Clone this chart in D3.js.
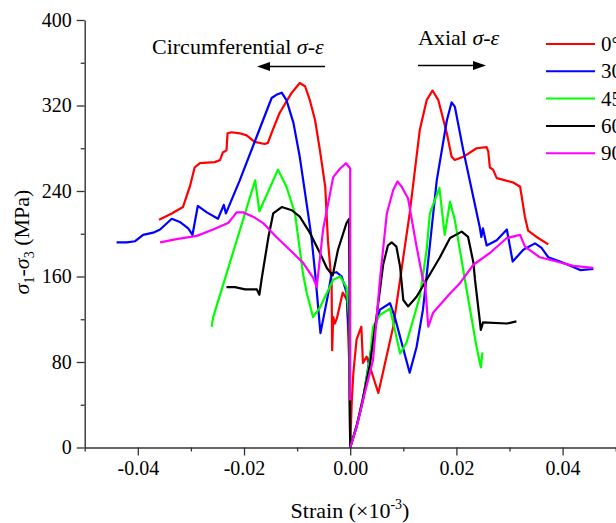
<!DOCTYPE html>
<html><head><meta charset="utf-8">
<script src="https://cdn.jsdelivr.net/npm/d3@7/dist/d3.min.js"></script>
<style>body{margin:0;background:#fff}svg{display:block}text{font-family:"Liberation Serif","Times New Roman",serif}</style>
</head><body><svg id="c" width="616" height="523"></svg>
<script>
// ---- data: [strain, sigma1-sigma3 (MPa)] ----
const series = ["0°","30°","45°","60°","90°"];
const colors = ["#ff0000","#0000ff","#00ff00","#000000","#ff00ff"];
const xTickValues = [-0.04,-0.02,0,0.02,0.04];
const xTickLabels = ["-0.04","-0.02","0.00","0.02","0.04"];
const yTickValues = [0,80,160,240,320,400];
const yTickLabels = ["0","80","160","240","320","400"];

const circ0 = [[0,0],[-0.0002,82],[-0.0006,138],[-0.0014,145],[-0.0025,121],[-0.0029,116],[-0.0032,122],[-0.0034,91],[-0.0035,154],[-0.0042,194],[-0.0047,244],[-0.0057,278],[-0.0066,306],[-0.0076,325],[-0.0085,338],[-0.0095,341],[-0.0110,332],[-0.0133,313],[-0.0146,297],[-0.0155,285],[-0.0161,284],[-0.0180,286],[-0.0195,292],[-0.0208,294],[-0.0223,295],[-0.0231,294],[-0.0233,278],[-0.0240,276],[-0.0245,269],[-0.0255,267],[-0.0283,266],[-0.0293,262],[-0.0302,244],[-0.0315,225],[-0.0336,219],[-0.0360,213]];
const axial0 = [[0,0],[0.0003,44],[0.0006,70],[0.0012,101],[0.0021,113],[0.0024,79],[0.0031,85],[0.0053,51],[0.0081,113],[0.0094,157],[0.0100,178],[0.0112,219],[0.0131,297],[0.0144,325],[0.0155,334],[0.0166,325],[0.0182,294],[0.0191,272],[0.0197,269],[0.0213,272],[0.0238,280],[0.0257,281],[0.0260,277],[0.0263,262],[0.0269,260],[0.0276,252],[0.0307,248],[0.0320,244],[0.0329,216],[0.0335,203],[0.0351,197],[0.0373,190]];

const circ30 = [[0,0],[-0.0002,103],[-0.0007,145],[-0.0016,160],[-0.0026,164],[-0.0035,163],[-0.0041,145],[-0.0056,107],[-0.0066,163],[-0.0073,197],[-0.0082,228],[-0.0095,272],[-0.0107,304],[-0.0120,325],[-0.0129,332],[-0.0139,330],[-0.0148,327],[-0.0176,291],[-0.0208,250],[-0.0234,219],[-0.0238,227],[-0.0249,214],[-0.0270,220],[-0.0287,226],[-0.0297,199],[-0.0305,205],[-0.0321,211],[-0.0336,214],[-0.0358,204],[-0.0371,201],[-0.0390,199],[-0.0405,193],[-0.0421,192],[-0.0440,192]];
const axial30 = [[0,0],[0.0012,19],[0.0024,44],[0.0037,85],[0.0050,119],[0.0056,129],[0.0075,135],[0.0084,122],[0.0112,70],[0.0125,94],[0.0137,129],[0.0141,147],[0.0163,250],[0.0182,306],[0.0191,323],[0.0197,319],[0.0213,278],[0.0244,206],[0.0247,197],[0.0250,205],[0.0257,189],[0.0276,194],[0.0295,204],[0.0306,174],[0.0326,185],[0.0348,191],[0.0360,187],[0.0373,178],[0.0395,174],[0.0420,169],[0.0433,166],[0.0458,167]];

const circ45 = [[0,0],[-0.0002,122],[-0.0007,150],[-0.0019,160],[-0.0032,157],[-0.0057,131],[-0.0070,122],[-0.0082,145],[-0.0089,163],[-0.0104,219],[-0.0120,244],[-0.0136,260],[-0.0171,221],[-0.0179,250],[-0.0258,122],[-0.0261,113]];
const axial45 = [[0,0],[0.0013,22],[0.0024,46],[0.0037,82],[0.0043,113],[0.0056,124],[0.0075,130],[0.0094,88],[0.0106,98],[0.0131,141],[0.0144,185],[0.0150,219],[0.0168,243],[0.0178,199],[0.0188,230],[0.0197,213],[0.0216,157],[0.0238,94],[0.0246,75],[0.0249,89]];

const circ60 = [[0,0],[-0.0002,214],[-0.0007,210],[-0.0023,185],[-0.0033,161],[-0.0044,168],[-0.0057,182],[-0.0076,201],[-0.0095,216],[-0.0110,222],[-0.0129,225],[-0.0145,219],[-0.0154,197],[-0.0167,157],[-0.0171,143],[-0.0176,148],[-0.0198,148],[-0.0217,150],[-0.0233,150]];
const axial60 = [[0,0],[0.0013,22],[0.0024,46],[0.0037,77],[0.0050,124],[0.0062,171],[0.0071,189],[0.0078,192],[0.0087,188],[0.0094,169],[0.0100,138],[0.0109,132],[0.0125,141],[0.0144,157],[0.0169,178],[0.0188,196],[0.0210,202],[0.0222,197],[0.0232,173],[0.0235,157],[0.0244,119],[0.0246,110],[0.0250,117],[0.0295,116],[0.0313,118]];

const circ90 = [[0,44],[0,261],[-0.0008,266],[-0.0019,261],[-0.0032,253],[-0.0051,204],[-0.0063,150],[-0.0066,154],[-0.0070,159],[-0.0089,173],[-0.0114,185],[-0.0139,197],[-0.0164,210],[-0.0183,216],[-0.0202,220],[-0.0214,220],[-0.0220,216],[-0.0230,210],[-0.0258,204],[-0.0289,198],[-0.0327,195],[-0.0358,192]];
const axial90 = [[0,0],[0.0012,19],[0.0024,44],[0.0043,82],[0.0056,157],[0.0069,219],[0.0081,241],[0.0089,249],[0.0097,244],[0.0109,233],[0.0125,188],[0.0137,157],[0.0141,154],[0.0147,113],[0.0156,126],[0.0188,144],[0.0207,154],[0.0232,171],[0.0263,182],[0.0295,196],[0.0320,199],[0.0329,188],[0.0357,178],[0.0389,174],[0.0420,170],[0.0458,168]];

const curves = [[circ0,axial0],[circ30,axial30],[circ45,axial45],[circ60,axial60],[circ90,axial90]];

// ---- drawing ----
const svg = d3.select("#c");
const x = d3.scaleLinear().domain([-0.05,0.05]).range([84.7,615.7]);
const y = d3.scaleLinear().domain([0,400]).range([447.5,20]);
const axisColor = "#333";

// curves
const line = d3.line().x(d=>x(d[0])).y(d=>y(d[1]));
const g = svg.append("g");
curves.forEach((pair,i)=>{
  pair.forEach(arr=>{
    g.append("path").datum(arr).attr("d",line).attr("fill","none")
      .attr("stroke",colors[i]).attr("stroke-width",2.2).attr("stroke-linejoin","round");
  });
});

// axes
const xMinor = d3.range(-5,6,2).map(v=>v/100);
const yMinor = d3.range(40,400,80);
const xAx = svg.append("g").attr("transform",`translate(0,${y(0)})`)
  .call(d3.axisBottom(x).tickValues(xTickValues).tickSize(8).tickSizeOuter(0)
    .tickFormat((d,i)=>xTickLabels[i]));
svg.append("g").attr("transform",`translate(0,${y(0)})`)
  .call(d3.axisBottom(x).tickValues(xMinor).tickSize(4).tickSizeOuter(0).tickFormat(""))
  .select(".domain").remove();
const yAx = svg.append("g").attr("transform",`translate(${x(-0.05)},0)`)
  .call(d3.axisLeft(y).tickValues(yTickValues).tickSize(8).tickSizeOuter(0)
    .tickFormat((d,i)=>yTickLabels[i]));
svg.append("g").attr("transform",`translate(${x(-0.05)},0)`)
  .call(d3.axisLeft(y).tickValues(yMinor).tickSize(4).tickSizeOuter(0).tickFormat(""))
  .select(".domain").remove();
svg.selectAll(".domain").attr("stroke",axisColor).attr("stroke-width",1.4);
svg.selectAll(".tick line").attr("stroke",axisColor).attr("stroke-width",1.3);
svg.selectAll(".tick text").attr("font-family","Liberation Serif").attr("font-size",20).attr("fill","#000");
xAx.selectAll(".tick text").attr("y",13);
yAx.selectAll(".tick text").attr("x",-13);

// axis titles
const xt = svg.append("text").attr("x",350).attr("y",518).attr("text-anchor","middle").attr("font-size",22);
xt.append("tspan").text("Strain (×10");
xt.append("tspan").attr("dy",-9).attr("font-size",14).text("-3");
xt.append("tspan").attr("dy",9).text(")");

const yt = svg.append("text").attr("transform","translate(29,242) rotate(-90)").attr("text-anchor","middle").attr("font-size",22);
yt.append("tspan").attr("font-style","italic").text("σ");
yt.append("tspan").attr("dy",5).attr("font-size",14).text("1");
yt.append("tspan").attr("dy",-5).text("-");
yt.append("tspan").attr("font-style","italic").text("σ");
yt.append("tspan").attr("dy",5).attr("font-size",14).text("3");
yt.append("tspan").attr("dy",-5).text(" (MPa)");

// annotations
const a1 = svg.append("text").attr("x",152).attr("y",54).attr("font-size",22);
a1.append("tspan").text("Circumferential ");
a1.append("tspan").attr("font-style","italic").text("σ-ε");
const a2 = svg.append("text").attr("x",418).attr("y",45).attr("font-size",22);
a2.append("tspan").text("Axial ");
a2.append("tspan").attr("font-style","italic").text("σ-ε");

svg.append("line").attr("x1",325).attr("x2",268).attr("y1",66.5).attr("y2",66.5).attr("stroke","#000").attr("stroke-width",1.6);
svg.append("path").attr("d","M257,66.5 L270,62 L270,71 Z").attr("fill","#000");
svg.append("line").attr("x1",418).attr("x2",475).attr("y1",65.5).attr("y2",65.5).attr("stroke","#000").attr("stroke-width",1.6);
svg.append("path").attr("d","M486,65.5 L473,61 L473,70 Z").attr("fill","#000");

// legend (cut at the right edge, as in the reference)
series.forEach((s,i)=>{
  const ly = 44 + i*27.3;
  svg.append("line").attr("x1",546).attr("x2",595).attr("y1",ly).attr("y2",ly)
    .attr("stroke",colors[i]).attr("stroke-width",2);
  svg.append("text").attr("x",601).attr("y",ly+7).attr("font-size",21).text(s);
});
</script></body></html>
